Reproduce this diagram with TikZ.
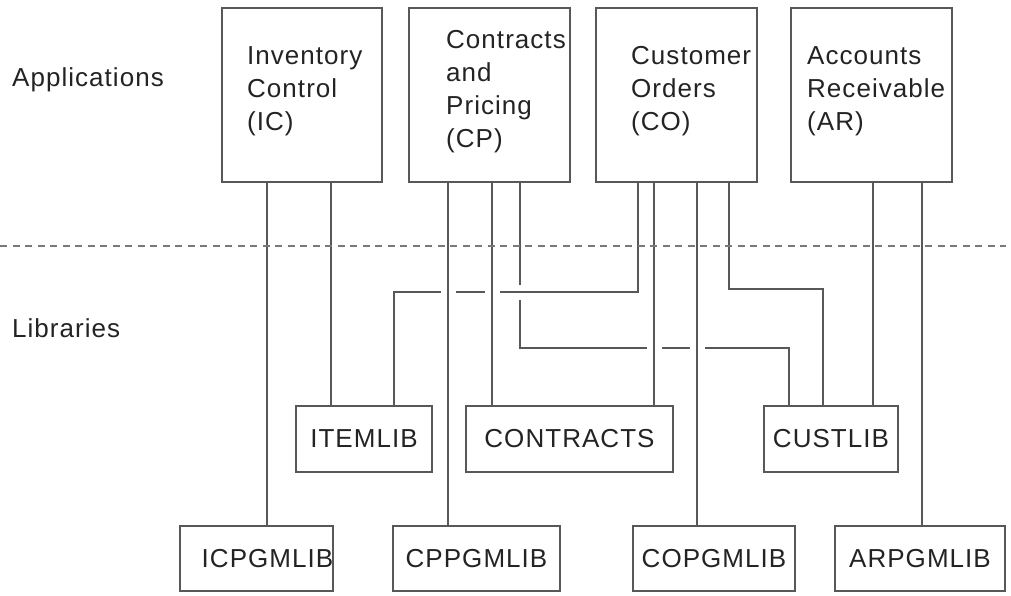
\documentclass[tikz,border=0pt]{standalone}
\usepackage{fontspec}
\setmainfont[LetterSpace=4]{Liberation Sans}
\definecolor{linegray}{RGB}{88,88,88}
\definecolor{txt}{RGB}{35,35,35}
\tikzset{
  box/.style={draw=linegray, line width=1.8pt, inner sep=0pt, text=txt, font=\fontsize{26}{33}\selectfont},
  lbl/.style={inner sep=0pt, text=txt, font=\fontsize{26}{33}\selectfont, align=left},
  conn/.style={draw=linegray, line width=1.6pt},
  over/.style={preaction={draw=white, line width=15pt, shorten <=3pt, shorten >=3pt}},
  sep/.style={draw=linegray!80, line width=2.2pt, dash pattern=on 7pt off 5.5pt}
}
\begin{document}
\begin{tikzpicture}[x=1pt,y=-1pt]
\useasboundingbox (0,0) rectangle (1011,596);
% side labels
\node[lbl, anchor=west] (apps) at (12,80) {Applications};
\node[lbl, anchor=west] (libs) at (12,328) {Libraries};
% application boxes
\node[box, minimum width=160pt, minimum height=174pt] (ic) at (302,95) {};
\node[box, minimum width=161pt, minimum height=174pt] (cp) at (489.5,95) {};
\node[box, minimum width=161pt, minimum height=174pt] (co) at (676.5,95) {};
\node[box, minimum width=161pt, minimum height=174pt] (ar) at (871.5,95) {};
\node[lbl, anchor=west] (ict) at (247,91) {Inventory\\Control\\(IC)};
\node[lbl, anchor=west] (cpt) at (446,92) {Contracts\\and\\Pricing\\(CP)};
\node[lbl, anchor=west] (cot) at (631,91) {Customer\\Orders\\(CO)};
\node[lbl, anchor=west] (art) at (807,91) {Accounts\\Receivable\\(AR)};
% library boxes
\node[box, minimum width=136pt, minimum height=66pt] (itemlib) at (364,439) {ITEMLIB};
\node[box, minimum width=207pt, minimum height=66pt] (contracts) at (569.5,439) {CONTRACTS};
\node[box, minimum width=134pt, minimum height=66pt] (custlib) at (831,439) {CUSTLIB};
\node[box, minimum width=151pt, minimum height=65pt] (icpgmlib) at (256.5,558.5) {\hspace*{22pt}ICPGMLIB};
\node[box, minimum width=167pt, minimum height=65pt] (cppgmlib) at (476.5,558.5) {CPPGMLIB};
\node[box, minimum width=162pt, minimum height=65pt] (copgmlib) at (714,558.5) {COPGMLIB};
\node[box, minimum width=170pt, minimum height=65pt] (arpgmlib) at (920,558.5) {ARPGMLIB};
% connectors (under first)
\draw[conn] (cp.south -| 520,0) |- (789,348) -- (custlib.north -| 789,0);
\draw[conn, over] (co.south -| 638,0) |- (394,292) -- (itemlib.north -| 394,0);
\draw[conn, over] (cp.south -| 448,0) -- (cppgmlib.north -| 448,0);
\draw[conn, over] (cp.south -| 492,0) -- (contracts.north -| 492,0);
\draw[conn, over] (co.south -| 654,0) -- (contracts.north -| 654,0);
\draw[conn, over] (co.south -| 697,0) -- (copgmlib.north -| 697,0);
\draw[conn] (ic.south -| 267,0) -- (icpgmlib.north -| 267,0);
\draw[conn] (ic.south -| 331,0) -- (itemlib.north -| 331,0);
\draw[conn] (co.south -| 729,0) |- (823,289) -- (custlib.north -| 823,0);
\draw[conn] (ar.south -| 873,0) -- (custlib.north -| 873,0);
\draw[conn] (ar.south -| 922,0) -- (arpgmlib.north -| 922,0);
% separator
\coordinate (sepL) at (0,246);
\coordinate (sepR) at (1006,246);
\draw[sep] (sepL) -- (sepR);
\end{tikzpicture}
\end{document}
